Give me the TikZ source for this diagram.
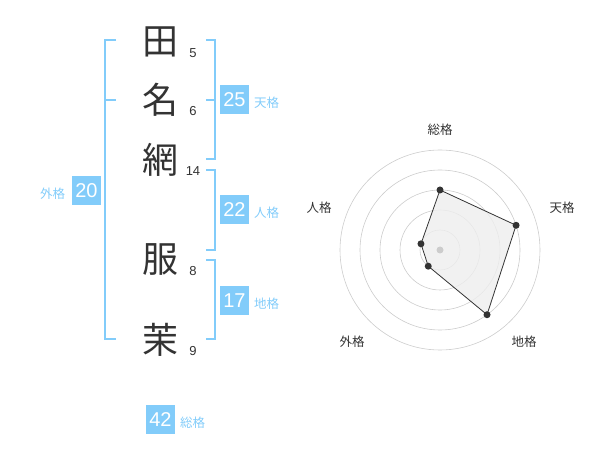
\documentclass[tikz,border=0pt]{standalone}
\usepackage{fontspec}
\setmainfont{Noto Sans CJK JP}
\newfontfamily\latin{Liberation Sans}
\usetikzlibrary{positioning}
\definecolor{sky}{RGB}{130,204,250}
\definecolor{ink}{RGB}{51,51,51}
\definecolor{ring}{RGB}{204,204,204}
\definecolor{area}{RGB}{238,238,238}

\begin{document}
\begin{tikzpicture}[
		x=1pt,y=-1pt,every node/.style={inner sep=0pt,outer sep=0pt},
		kanji/.style={text=ink,font=\fontsize{36}{36}\selectfont},
		stroke/.style={text=ink,font=\latin\fontsize{13}{13}\selectfont},
		numbox/.style={fill=sky,text=white,minimum size=29pt,font=\latin\fontsize{20}{20}\selectfont},
		kaku/.style={text=sky,font=\fontsize{12.5}{12.5}\selectfont,yshift=-3pt},
		brace/.style={draw=sky,line width=2pt},
		axis/.style={text=ink,font=\fontsize{12.5}{12.5}\selectfont},
		dot/.style={circle,fill=ink,minimum size=7pt}
	]
	\useasboundingbox (0,0) rectangle (600,470);

	%the name and its stroke counts
		\foreach \i/\ch/\y/\n in {1/田/42/5, 2/名/100/6, 3/網/160/14, 4/服/260/8, 5/茉/340/9}
		{
			\node[kanji] (c\i) at (160,\y) {\ch};
			\node[stroke] (n\i) at (193,\y+11) {\n};
		}
	%brackets
		\draw[brace] (116,40) -- (105,40) -- (105,339) -- (116,339);
		\draw[brace] (105,100) -- (116,100);
		\foreach \a/\b in {40/159, 170/250, 260/339}
			\draw[brace] (206,\a) -- (215,\a) -- (215,\b) -- (206,\b);
		\draw[brace] (206,100) -- (215,100);
	%the five counts
		\node[numbox] (ten) at (234.5,100) {25};
		\node[kaku,right=5pt of ten] (tenl) {天格};
		\node[numbox] (jin) at (234.5,210) {22};
		\node[kaku,right=5pt of jin] (jinl) {人格};
		\node[numbox] (chi) at (234.5,300.5) {17};
		\node[kaku,right=5pt of chi] (chil) {地格};
		\node[numbox] (gai) at (86.5,190.5) {20};
		\node[kaku,left=7pt of gai] (gail) {外格};
		\node[numbox] (sou) at (160.5,419.5) {42};
		\node[kaku,right=5pt of sou] (soul) {総格};

	%the radar chart
	\begin{scope}[shift={(440,250)}]
		\foreach \r in {20,40,60,80,100}
			\draw[ring,line width=0.6pt] (0,0) circle (\r pt);
		\foreach \a/\r [count=\i] in {90/60, 18/80, -54/80, -126/20, 162/20}
			\coordinate (p\i) at (\a:\r pt);
		\draw[fill=area,fill opacity=0.8,draw=ink,line width=0.8pt] (p1) -- (p2) -- (p3) -- (p4) -- (p5) -- cycle;
		\fill[ring] (0,0) circle (3.5pt);
		\foreach \i in {1,...,5}
			\node[dot] (d\i) at (p\i) {};
	%axis names
		\foreach \t/\x/\y [count=\i] in {総格/0/-120, 天格/122/-42, 地格/84/92, 外格/-88/92, 人格/-121/-42}
			\node[axis] (l\i) at (\x,\y) {\t};
	\end{scope}
\end{tikzpicture}
\end{document}
